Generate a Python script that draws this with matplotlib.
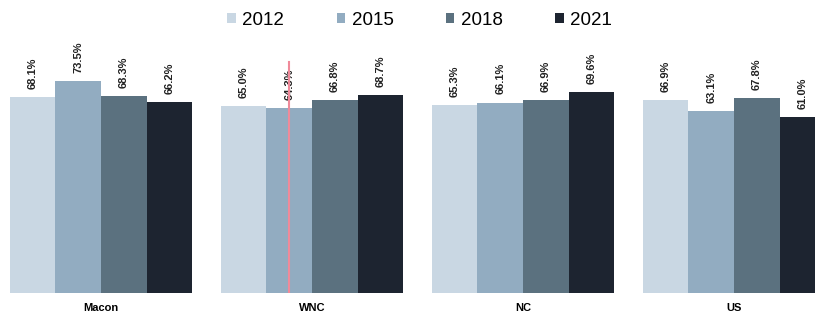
import numpy as np
import matplotlib.pyplot as plt

# データ
categories = ['Macon', 'WNC', 'NC', 'US']
years = ['2012', '2015', '2018', '2021']
values = {
    '2012': [68.1, 65.0, 65.3, 66.9],
    '2015': [73.5, 64.3, 66.1, 63.1],
    '2018': [68.3, 66.8, 66.9, 67.8],
    '2021': [66.2, 68.7, 69.6, 61.0],
}
colors = ['#c9d7e3', '#92acc1', '#5b717f', '#1d2430']

plt.rcParams['font.family'] = ['Liberation Sans Narrow', 'Liberation Sans', 'DejaVu Sans']

fig = plt.figure(figsize=(8.15, 3.19), dpi=100)
ax = fig.add_axes([0, 0.082, 1, 0.918])

x = np.arange(len(categories))
w = 0.216
for i, yr in enumerate(years):
    pos = x + (i - 1.5) * w
    ax.bar(pos, values[yr], width=w, color=colors[i], label=yr)
    for p, v in zip(pos, values[yr]):
        ax.text(p, v + 2.8, f'{v:.1f}%', rotation=90, ha='center', va='bottom',
                fontsize=8, fontweight='bold', color='#222222')

# WNC 2015 の赤い線
ax.plot([x[1] - 0.5 * w, x[1] - 0.5 * w], [0, 80], color='#f08a9a', lw=1.5, zorder=3)

ax.set_xlim(-0.479, 3.384)
ax.set_ylim(0, 101.7)
ax.axis('off')

for xi, c in zip(x, categories):
    ax.text(xi, -3.5, c, ha='center', va='top', fontsize=8, fontweight='bold')

fig.legend(loc='upper center', bbox_to_anchor=(0.515, 1.015), ncol=4, frameon=False,
           handlelength=0.45, handleheight=0.45, handletextpad=0.35,
           columnspacing=2.8, prop={'family': ['Liberation Sans', 'DejaVu Sans'], 'size': 13.5})

fig.savefig('out.png', dpi=100)
